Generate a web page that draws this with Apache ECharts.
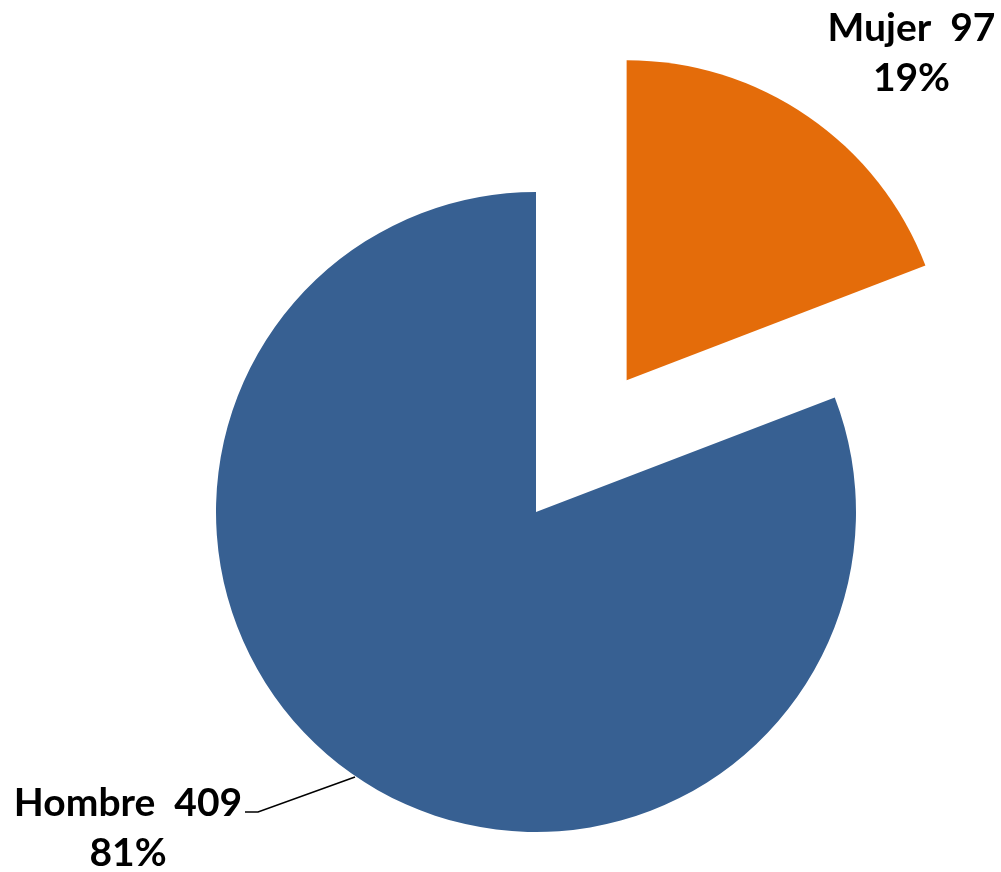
<!DOCTYPE html>
<html>
<head>
<meta charset="utf-8">
<script src="https://cdn.jsdelivr.net/npm/echarts@6/dist/echarts.min.js"></script>
<style>
  html, body { margin: 0; padding: 0; background: #fff; }
  #chart { width: 1001px; height: 872px; }
</style>
</head>
<body>
<div id="chart"></div>
<script>
    var categories = ['Mujer', 'Hombre'];
    var counts = [97, 409];
    var colors = ['#E46C0A', '#376092'];

    var total = counts.reduce(function (a, b) { return a + b; }, 0);

    // Hombre label is put by hand with its leader line, like in the Excel source
    var hombreSpot = { x: 128, y: 828, line: [[355, 777], [258, 812], [245, 812]] };

    var chart = echarts.init(document.getElementById('chart'));

    var textStyle = {
        color: '#000',
        fontFamily: 'Lato',
        fontWeight: 'bold',
        fontSize: 39,
        lineHeight: 50,
        align: 'center'
    };

    var option = {
        animation: false,
        series: [
            {
                type: 'pie',
                center: [536, 512],
                radius: 320,
                startAngle: 90,
                clockwise: true,
                selectedMode: 'single',
                selectedOffset: 160,
                avoidLabelOverlap: false,
                emphasis: { disabled: true },
                label: {
                    show: true,
                    position: 'outside',
                    color: '#000',
                    fontFamily: 'Lato',
                    fontWeight: 'bold',
                    fontSize: 39,
                    lineHeight: 50,
                    align: 'center',
                    rich: {
                        t: textStyle,
                        gap: { height: 385, lineHeight: 385 }
                    },
                    formatter: function (params) {
                        var pct = Math.round(params.value * 100 / total);
                        if (params.dataIndex === 0) {
                            // selected slice ignores labelLayout: an empty tall line lifts the text
                            return '{t|' + params.name + '  ' + params.value + '}\n{t|' + pct + '%}\n{gap| }';
                        }
                        return params.name + '  ' + params.value + '\n' + pct + '%';
                    }
                },
                labelLine: {
                    show: true,
                    lineStyle: { color: '#000', width: 1.5 }
                },
                labelLayout: function (params) {
                    if (params.dataIndex !== 1) {
                        return {};
                    }
                    return {
                        x: hombreSpot.x,
                        y: hombreSpot.y,
                        align: 'center',
                        verticalAlign: 'middle',
                        labelLinePoints: hombreSpot.line
                    };
                },
                data: categories.map(function (name, i) {
                    var item = {
                        name: name,
                        value: counts[i],
                        selected: i === 0,
                        itemStyle: { color: colors[i] },
                        labelLine: { show: i !== 0 }
                    };
                    if (i === 0) {
                        item.label = { position: 'inside', padding: [0, 0, 0, 385] };
                    }
                    return item;
                })
            }
        ]
    };

    chart.setOption(option);
</script>
</body>
</html>
